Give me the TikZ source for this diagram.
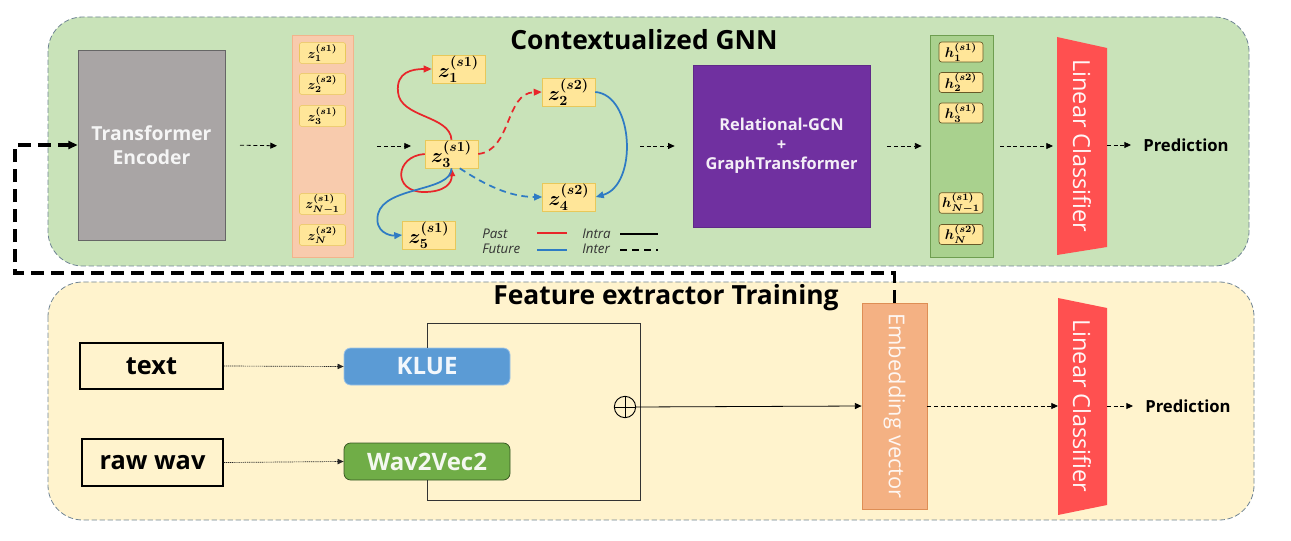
\RequirePackage{fix-cm}
\documentclass[tikz,border=0pt]{standalone}
\usepackage{amsmath}
\usepackage[no-math]{fontspec}
\setmainfont{Open Sans}
\usetikzlibrary{arrows.meta,calc}
\definecolor{ctxbg}{HTML}{C9E3B9}
\definecolor{featbg}{HTML}{FFF3CD}
\definecolor{panelbd}{HTML}{6F8494}
\definecolor{tegray}{HTML}{A9A5A5}
\definecolor{zcolf}{HTML}{F8CBAD}
\definecolor{zcold}{HTML}{F2B48C}
\definecolor{yboxf}{HTML}{FFE699}
\definecolor{yboxd}{HTML}{E8C85A}
\definecolor{hcolf}{HTML}{A9D18E}
\definecolor{hcold}{HTML}{6E9E50}
\definecolor{purp}{HTML}{7030A0}
\definecolor{lcred}{HTML}{FF5050}
\definecolor{klue}{HTML}{5B9BD5}
\definecolor{wavg}{HTML}{70AD47}
\definecolor{embf}{HTML}{F4B183}
\definecolor{embd}{HTML}{DE8E55}
\definecolor{pastred}{HTML}{E8262A}
\definecolor{futblue}{HTML}{2E7BC4}
\tikzset{
  panel/.style={rounded corners=26pt, dashed, dash pattern=on 4pt off 2pt, draw=panelbd, line width=0.6pt},
  ptitle/.style={font=\bfseries\fontsize{19.8}{23}\selectfont, text=black},
  darr/.style={-{Triangle[length=5pt,width=4.5pt]}, dash pattern=on 3pt off 2pt, line width=0.6pt},
  farr/.style={-{Triangle[length=4.5pt,width=4pt]}, dash pattern=on 1pt off 0.6pt, line width=0.5pt, draw=black!85},
  sarr/.style={-{Triangle[length=5pt,width=4.5pt]}, line width=0.6pt},
  colbox/.style={minimum width=34.5pt, minimum height=15.5pt, inner sep=0pt, fill=yboxf, draw=yboxd, line width=0.4pt, rounded corners=1.5pt, font=\fontsize{10}{12}\selectfont\boldmath},
  hbox/.style={minimum width=33pt, minimum height=15pt, inner sep=0pt, fill=yboxf, draw=black!55!yboxd, line width=0.5pt, rounded corners=2pt, font=\fontsize{10.5}{12}\selectfont\boldmath},
  gnode/.style={minimum width=39.75pt, minimum height=21pt, inner sep=0pt, fill=yboxf, draw=yboxd, line width=0.4pt, font=\fontsize{15}{17}\selectfont\boldmath},
  pastedge/.style={draw=pastred, line width=1.3pt, -{Triangle[length=6pt,width=5pt]}},
  futedge/.style={draw=futblue, line width=1.3pt, -{Triangle[length=6pt,width=5pt]}},
  interdash/.style={dash pattern=on 5pt off 3.5pt},
  inbox/.style={draw=black, line width=0.8pt, fill=featbg, font=\bfseries\fontsize{19}{22}\selectfont},
  encbox/.style={rounded corners=5pt, inner sep=0pt, font=\bfseries\fontsize{18}{22}\selectfont},
  pred/.style={anchor=west, inner sep=0pt, font=\bfseries\fontsize{12.5}{15}\selectfont},
  legtext/.style={font=\itshape\fontsize{10}{12}\selectfont, text=black!80, inner sep=0pt},
  fbline/.style={line width=2.3pt, dash pattern=on 9.5pt off 5.5pt, -{Triangle[length=7pt,width=6pt]}},
}
\begin{document}
\begin{tikzpicture}[x=0.75pt,y=-0.75pt]
\useasboundingbox (0,0) rectangle (1291,541);
% panels
\filldraw[panel, fill=ctxbg] (48,17) rectangle (1249,266);
\filldraw[panel, fill=featbg] (48,282) rectangle (1254,520);
\node[ptitle] (t1) at (644,40) {Contextualized GNN};
\node[ptitle] (t2) at (666,298) {Feature extractor Training};

% Transformer encoder
\node[fill=tegray, draw=black!60, line width=0.5pt, minimum width=110.25pt, minimum height=142.5pt, inner sep=0pt, align=center, text=white!96!black, font=\bfseries\fontsize{14.5}{18}\selectfont] (te) at (151.5,145) {Transformer\\Encoder};

% z column
\node[fill=zcolf, draw=zcold, line width=0.5pt, minimum width=45.75pt, minimum height=166.5pt, inner sep=0pt] (zcol) at (322.5,146) {};
\node[colbox] (c1) at (322.5,53) {$z_1^{(s1)}$};
\node[colbox] (c2) at (322.5,84) {$z_2^{(s2)}$};
\node[colbox] (c3) at (322.5,116) {$z_3^{(s1)}$};
\node[colbox] (c4) at (322.5,204) {$z_{N-1}^{(s1)}$};
\node[colbox] (c5) at (322.5,235) {$z_{N}^{(s2)}$};

% graph
\node[gnode] (z1) at (458.5,69) {$z_1^{(s1)}$};
\node[gnode] (z2) at (568.5,92) {$z_2^{(s2)}$};
\node[gnode] (z3) at (451.5,154) {$z_3^{(s1)}$};
\node[gnode] (z4) at (569,197) {$z_4^{(s2)}$};
\node[gnode] (z5) at (429,235) {$z_5^{(s1)}$};
\draw[pastedge] (z3.north) .. controls (450,115) and (400,118) .. (398,92) .. controls (396,72) and (412,69) .. (z1.west);
\draw[pastedge] (z3.west) .. controls (395,156) and (392,192) .. (424,192) .. controls (445,192) and (452,183) .. (z3.south);
\draw[pastedge, interdash] (z3.east) .. controls (512,150) and (505,93) .. (z2.west);
\draw[futedge] (z2.east) .. controls (634,95) and (638,185) .. (z4.east);
\draw[futedge, interdash] (z3.-60) .. controls (485,185) and (510,197) .. (z4.west);
\draw[futedge] (z3.south) .. controls (452,192) and (385,186) .. (378,214) .. controls (374,232) and (390,236) .. (z5.west);

% legend
\node[legtext, anchor=west] (lp) at (482,234) {Past};
\node[legtext, anchor=west] (lf) at (482,249) {Future};
\node[legtext, anchor=west] (li) at (582,234) {Intra};
\node[legtext, anchor=west] (le) at (582,249) {Inter};
\draw[pastred, line width=1.2pt] (537,233) -- (567,233);
\draw[futblue, line width=1.2pt] (537,250) -- (567,250);
\draw[black, line width=1.2pt] (620,234) -- (658,234);
\draw[black, line width=1.5pt, dash pattern=on 5pt off 4pt] (620,250) -- (658,250);

% purple
\node[fill=purp, draw=purp!85!black, line width=0.5pt, minimum width=132.75pt, minimum height=121.5pt, inner sep=0pt, align=center, text=white!92!purp, font=\bfseries\fontsize{12.3}{14.5}\selectfont] (rg) at (781.5,146) {Relational-GCN\\+\\GraphTransformer};

% h column
\node[fill=hcolf, draw=hcold, line width=0.6pt, minimum width=47.25pt, minimum height=166.5pt, inner sep=0pt] (hcol) at (961.5,146) {};
\node[hbox] (h1) at (961,52) {$h_1^{(s1)}$};
\node[hbox] (h2) at (961,82.5) {$h_2^{(s2)}$};
\node[hbox] (h3) at (961,113) {$h_3^{(s1)}$};
\node[hbox] (h4) at (961,203) {$h_{N-1}^{(s1)}$};
\node[hbox] (h5) at (961,234.5) {$h_{N}^{(s2)}$};

% linear classifier (top)
\fill[lcred] (1057,37) -- (1107,48) -- (1107,247) -- (1057,255) -- cycle;
\node[rotate=-90, text=white!95!lcred, font=\fontsize{17.6}{20}\selectfont, inner sep=0pt] (lct) at (1082,146) {Linear Classifier};
\coordinate (lc1w) at (1057,146);
\coordinate (lc1e) at (1107,145);
\node[pred] (p1) at (1143,145) {Prediction};

% top arrows
\coordinate (gin) at (411,146);
\coordinate (gout) at (640,146);
\draw[darr, shorten <=11pt, shorten >=11pt] (te.east) -- (zcol.west);
\draw[darr, shorten <=18pt] (zcol.east) -- (gin);
\draw[darr, shorten >=13.5pt] (gout) -- (rg.west);
\draw[darr, shorten <=12.75pt, shorten >=6pt] (rg.east) -- (hcol.west);
\draw[darr, shorten <=5pt, shorten >=3pt] (hcol.east) -- (lc1w);
\draw[darr, shorten >=9pt] (lc1e) -- (p1.west);

% bottom
\node[inbox, minimum width=107.25pt, minimum height=34.5pt] (tx) at (151.5,366) {text};
\node[inbox, minimum width=105.75pt, minimum height=35.25pt] (rw) at (152.5,462.5) {raw wav};
\coordinate (rtop) at (640,323);
\coordinate (rbot) at (640,500);
\node[encbox, fill=klue, draw=klue!60!white, line width=0.6pt, minimum width=124.5pt, minimum height=27.75pt, text=white!92!klue] (kl) at (427,366.5) {KLUE};
\node[encbox, fill=wavg, draw=wavg!50!black, line width=0.6pt, minimum width=124.5pt, minimum height=27.75pt, text=white!92!wavg] (wv) at (427,461.5) {Wav2Vec2};
\draw[line width=0.6pt, black!80] (kl.north) |- (rtop) -- (rbot) -| (wv.south);
\node[circle, draw=black, line width=0.7pt, minimum size=16pt, inner sep=0pt, fill=featbg] (pl) at (625,407) {};
\draw[line width=0.7pt] (pl.north) -- (pl.south) (pl.west) -- (pl.east);
\draw[farr] (tx.east) -- (kl.west);
\draw[farr] (rw.east) -- (wv.west);

\node[fill=embf, draw=embd, line width=0.6pt, minimum width=48.75pt, minimum height=154.5pt, inner sep=0pt] (emb) at (894.5,406) {};
\node[rotate=-90, text=white!90!embf, font=\fontsize{16.4}{19}\selectfont, inner sep=0pt] (embt) at (894.5,406) {Embedding vector};
\draw[sarr] (pl.east) -- (emb.west);

\fill[lcred] (1058,298) -- (1107,308) -- (1107,505) -- (1058,515) -- cycle;
\node[rotate=-90, text=white!95!lcred, font=\fontsize{17.6}{20}\selectfont, inner sep=0pt] (lct2) at (1082,406) {Linear Classifier};
\coordinate (lc2w) at (1058,406);
\coordinate (lc2e) at (1107,406);
\node[pred] (p2) at (1145,406) {Prediction};
\draw[darr] (emb.east) -- (lc2w);
\draw[darr, shorten >=9pt] (lc2e) -- (p2.west);

% feedback
\coordinate (fb1) at (15,273);
\coordinate (fb2) at (15,145);
\draw[fbline] (emb.north) |- (fb1) -- (fb2) -- (te.west);
\end{tikzpicture}
\end{document}
